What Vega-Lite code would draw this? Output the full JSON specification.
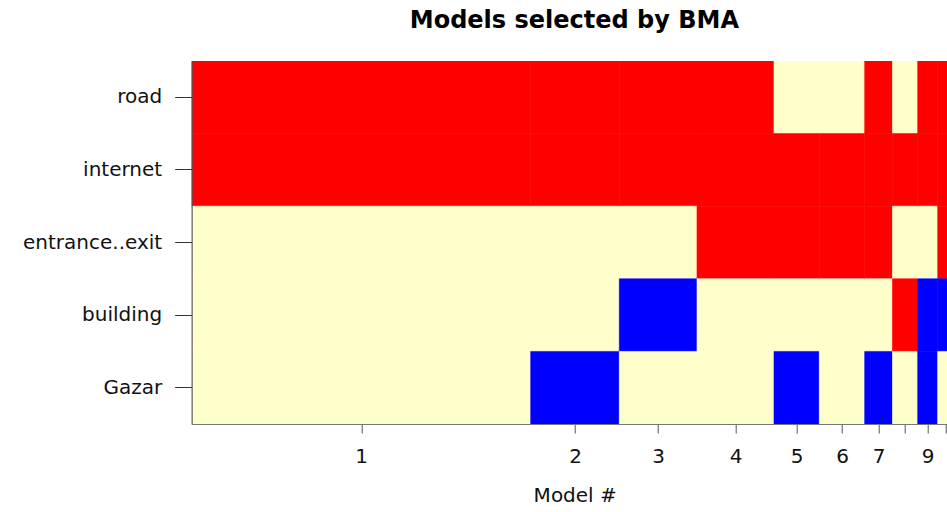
{
  "$schema": "https://vega.github.io/schema/vega-lite/v6.json",
  "autosize": {"type": "none"},
  "padding": {"left": 191.7, "top": 61, "right": 0, "bottom": 88},
  "width": 755.3,
  "height": 363,
  "background": "white",
  "title": {
    "text": "Models selected by BMA",
    "font": "DejaVu Sans",
    "fontSize": 24,
    "fontWeight": "bold",
    "color": "black",
    "anchor": "middle",
    "dx": 5,
    "offset": 28
  },
  "config": {
    "view": {"stroke": "#777", "strokeWidth": 1},
    "font": "DejaVu Sans"
  },
  "data": {
    "values": [
      {"model": 1, "start": 0, "end": 339, "variable": "road", "sign": "pos"},
      {"model": 1, "start": 0, "end": 339, "variable": "internet", "sign": "pos"},
      {"model": 1, "start": 0, "end": 339, "variable": "entrance..exit", "sign": "none"},
      {"model": 1, "start": 0, "end": 339, "variable": "building", "sign": "none"},
      {"model": 1, "start": 0, "end": 339, "variable": "Gazar", "sign": "none"},
      {"model": 2, "start": 339, "end": 427.6, "variable": "road", "sign": "pos"},
      {"model": 2, "start": 339, "end": 427.6, "variable": "internet", "sign": "pos"},
      {"model": 2, "start": 339, "end": 427.6, "variable": "entrance..exit", "sign": "none"},
      {"model": 2, "start": 339, "end": 427.6, "variable": "building", "sign": "none"},
      {"model": 2, "start": 339, "end": 427.6, "variable": "Gazar", "sign": "neg"},
      {"model": 3, "start": 427.6, "end": 505.3, "variable": "road", "sign": "pos"},
      {"model": 3, "start": 427.6, "end": 505.3, "variable": "internet", "sign": "pos"},
      {"model": 3, "start": 427.6, "end": 505.3, "variable": "entrance..exit", "sign": "none"},
      {"model": 3, "start": 427.6, "end": 505.3, "variable": "building", "sign": "neg"},
      {"model": 3, "start": 427.6, "end": 505.3, "variable": "Gazar", "sign": "none"},
      {"model": 4, "start": 505.3, "end": 582.3, "variable": "road", "sign": "pos"},
      {"model": 4, "start": 505.3, "end": 582.3, "variable": "internet", "sign": "pos"},
      {"model": 4, "start": 505.3, "end": 582.3, "variable": "entrance..exit", "sign": "pos"},
      {"model": 4, "start": 505.3, "end": 582.3, "variable": "building", "sign": "none"},
      {"model": 4, "start": 505.3, "end": 582.3, "variable": "Gazar", "sign": "none"},
      {"model": 5, "start": 582.3, "end": 627.6, "variable": "road", "sign": "none"},
      {"model": 5, "start": 582.3, "end": 627.6, "variable": "internet", "sign": "pos"},
      {"model": 5, "start": 582.3, "end": 627.6, "variable": "entrance..exit", "sign": "pos"},
      {"model": 5, "start": 582.3, "end": 627.6, "variable": "building", "sign": "none"},
      {"model": 5, "start": 582.3, "end": 627.6, "variable": "Gazar", "sign": "neg"},
      {"model": 6, "start": 627.6, "end": 673, "variable": "road", "sign": "none"},
      {"model": 6, "start": 627.6, "end": 673, "variable": "internet", "sign": "pos"},
      {"model": 6, "start": 627.6, "end": 673, "variable": "entrance..exit", "sign": "pos"},
      {"model": 6, "start": 627.6, "end": 673, "variable": "building", "sign": "none"},
      {"model": 6, "start": 627.6, "end": 673, "variable": "Gazar", "sign": "none"},
      {"model": 7, "start": 673, "end": 700.8, "variable": "road", "sign": "pos"},
      {"model": 7, "start": 673, "end": 700.8, "variable": "internet", "sign": "pos"},
      {"model": 7, "start": 673, "end": 700.8, "variable": "entrance..exit", "sign": "pos"},
      {"model": 7, "start": 673, "end": 700.8, "variable": "building", "sign": "none"},
      {"model": 7, "start": 673, "end": 700.8, "variable": "Gazar", "sign": "neg"},
      {"model": 8, "start": 700.8, "end": 726, "variable": "road", "sign": "none"},
      {"model": 8, "start": 700.8, "end": 726, "variable": "internet", "sign": "pos"},
      {"model": 8, "start": 700.8, "end": 726, "variable": "entrance..exit", "sign": "none"},
      {"model": 8, "start": 700.8, "end": 726, "variable": "building", "sign": "pos"},
      {"model": 8, "start": 700.8, "end": 726, "variable": "Gazar", "sign": "none"},
      {"model": 9, "start": 726, "end": 746, "variable": "road", "sign": "pos"},
      {"model": 9, "start": 726, "end": 746, "variable": "internet", "sign": "pos"},
      {"model": 9, "start": 726, "end": 746, "variable": "entrance..exit", "sign": "none"},
      {"model": 9, "start": 726, "end": 746, "variable": "building", "sign": "neg"},
      {"model": 9, "start": 726, "end": 746, "variable": "Gazar", "sign": "neg"},
      {"model": 10, "start": 746, "end": 762, "variable": "road", "sign": "pos"},
      {"model": 10, "start": 746, "end": 762, "variable": "internet", "sign": "pos"},
      {"model": 10, "start": 746, "end": 762, "variable": "entrance..exit", "sign": "pos"},
      {"model": 10, "start": 746, "end": 762, "variable": "building", "sign": "neg"},
      {"model": 10, "start": 746, "end": 762, "variable": "Gazar", "sign": "none"}
    ]
  },
  "mark": {"type": "rect", "clip": true, "strokeWidth": 0.6},
  "encoding": {
    "x": {
      "field": "start",
      "type": "quantitative",
      "scale": {"domain": [0, 755.3], "nice": false, "zero": false},
      "axis": {
        "title": "Model #",
        "titleFont": "DejaVu Sans",
        "titleFontSize": 20,
        "titleFontWeight": "normal",
        "titleColor": "#111",
        "titleX": 383,
        "titlePadding": 19,
        "values": [169.5, 383.3, 466.45, 543.8, 604.95, 650.3, 686.9, 713.4, 736, 754],
        "labelExpr": "datum.value == 169.5 ? '1' : datum.value == 383.3 ? '2' : datum.value == 466.45 ? '3' : datum.value == 543.8 ? '4' : datum.value == 604.95 ? '5' : datum.value == 650.3 ? '6' : datum.value == 686.9 ? '7' : datum.value == 736 ? '9' : ''",
        "labelFontSize": 20,
        "labelColor": "#111",
        "labelFont": "DejaVu Sans",
        "labelPadding": 13,
        "labelOverlap": false,
        "labelFlush": false,
        "tickSize": 9,
        "tickColor": "#555",
        "domainColor": "#777",
        "grid": false
      }
    },
    "x2": {"field": "end"},
    "y": {
      "field": "variable",
      "type": "nominal",
      "sort": ["road", "internet", "entrance..exit", "building", "Gazar"],
      "scale": {"paddingInner": 0, "paddingOuter": 0},
      "axis": {
        "title": null,
        "labelFontSize": 20,
        "labelColor": "#111",
        "labelFont": "DejaVu Sans",
        "labelPadding": 13,
        "tickSize": 17,
        "tickColor": "#333",
        "domainColor": "#555",
        "grid": false
      }
    },
    "color": {
      "field": "sign",
      "type": "nominal",
      "scale": {"domain": ["pos", "neg", "none"], "range": ["#FF0000", "#0000FF", "#FFFFCC"]},
      "legend": null
    },
    "stroke": {
      "field": "sign",
      "type": "nominal",
      "scale": {"domain": ["pos", "neg", "none"], "range": ["#FF0000", "#0000FF", "#FFFFCC"]},
      "legend": null
    }
  }
}
